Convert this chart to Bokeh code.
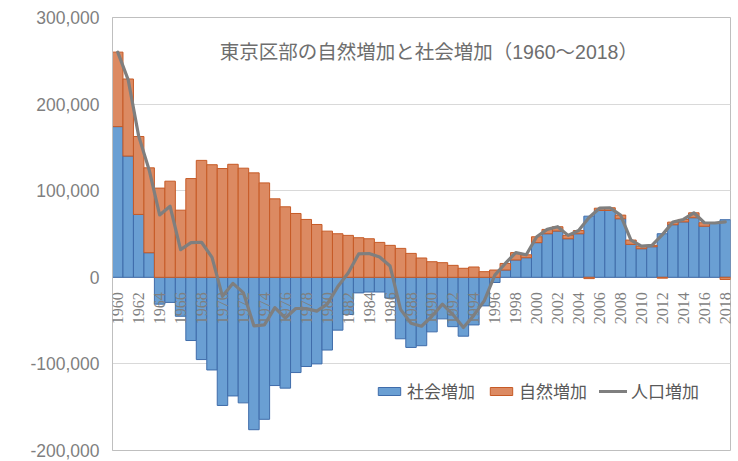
import numpy as np
from bokeh.plotting import figure
from bokeh.models import (Range1d, FixedTicker, NumeralTickFormatter, ColumnDataSource,
                          Legend, LegendItem, Label, LabelSet, Span)
from bokeh.core.properties import value
from bokeh.embed import file_html
from bokeh.resources import INLINE

# ---------------- data (persons) ----------------
years = list(range(1960, 2019))

social_k = [174, 140, 72.6, 28.4, -31, -29, -45, -73, -95, -107,
            -148, -137, -145, -176, -164, -125, -128, -110, -103, -100,
            -84, -61, -43, -18, -17, -17, -24, -71, -81, -79,
            -63, -48, -57, -68, -55, -33, -6, 8.4, 20, 22.6,
            40, 50.3, 53.4, 44.5, 50.3, 70.6, 77.2, 77.2, 67.6, 38,
            33, 35.3, 50.3, 60.7, 64, 68.8, 59, 62.2, 66.5]

natural_k = [86, 89, 90, 98, 103, 111, 77.5, 114, 135, 130,
             125.6, 130.5, 126, 120.6, 109, 90.6, 81.4, 73.7, 66.8, 61,
             53.3, 50.3, 48.4, 45.7, 44.5, 40.3, 36.9, 33.4, 27.6, 22.3,
             18, 16.9, 13.8, 10.4, 11.9, 6.5, 8.4, 7.6, 8.5, 3.4,
             6.8, 5, 5, 3.9, 3.7, -1.5, 2.6, 3.1, 4.2, 5,
             3, 1.6, -1, 3, 2.8, 5.7, 4, 0.5, -2.5]

population_k = [260, 228, 163, 124, 72, 82, 32, 40, 40.5, 23,
                -22, -7, -18, -56, -55, -35, -47, -36, -36, -39,
                -31, -11, 5, 27, 27.5, 23.5, 13, -37, -53, -56.5,
                -45, -31, -43, -58, -44, -27, 2.5, 16, 28.5, 26,
                46.8, 55.3, 58.4, 48.4, 54, 69, 79.8, 80.3, 71.8, 43,
                36, 36.9, 49.3, 63.7, 66.8, 74.5, 63, 62.7, 64]

y_ticks = [-200000, -100000, 0, 100000, 200000, 300000]
x_label_years = years[::2]
title_text = "東京区部の自然増加と社会増加（1960～2018）"
legend_labels = ["社会増加", "自然増加", "人口増加"]

# ---------------- derived stacking (Excel-style: +/- stacked separately) ----------------
social = np.array(social_k) * 1000.0
natural = np.array(natural_k) * 1000.0
population = np.array(population_k) * 1000.0

soc_bottom = np.zeros_like(social)
soc_top = social
nat_bottom = np.where(natural >= 0, np.maximum(social, 0), np.minimum(social, 0))
nat_top = nat_bottom + natural

src = ColumnDataSource(dict(x=years, sb=soc_bottom, st=soc_top, nb=nat_bottom, nt=nat_top,
                            pop=population))
lbl_src = ColumnDataSource(dict(x=x_label_years, y=[0] * len(x_label_years),
                                t=[str(y) for y in x_label_years]))

CJK = "'Liberation Sans', 'Noto Sans CJK JP', sans-serif"
GRAY_TXT = "#7F7F7F"

p = figure(width=738, height=461,
           x_range=Range1d(1959.5, 2018.5), y_range=Range1d(-200000, 300000),
           output_backend="svg", toolbar_location=None,
           min_border_left=112, min_border_right=8, min_border_top=17, min_border_bottom=11)

p.xaxis.visible = False
p.xgrid.visible = False
p.ygrid.grid_line_color = "#D9D9D9"
p.ygrid.grid_line_width = 1
p.outline_line_color = "#BFBFBF"
p.outline_line_width = 1

ax = p.yaxis[0]
ax.ticker = FixedTicker(ticks=y_ticks)
ax.formatter = NumeralTickFormatter(format="0,0")
ax.axis_line_color = "#BFBFBF"
ax.major_tick_line_color = None
ax.minor_tick_line_color = None
ax.major_tick_out = 0
ax.major_label_standoff = 13
ax.major_label_text_font = "Liberation Sans"
ax.major_label_text_font_size = "17.5px"
ax.major_label_text_color = GRAY_TXT

p.add_layout(Span(location=0, dimension="width", line_color="#BFBFBF", line_width=1, level="underlay"))

r_soc = p.vbar(x="x", bottom="sb", top="st", width=1.0, source=src,
               fill_color="#6A9FD3", line_color="#3F6CAA", line_width=1)
r_nat = p.vbar(x="x", bottom="nb", top="nt", width=1.0, source=src,
               fill_color="#DC8A62", line_color="#C65A26", line_width=1)

p.add_layout(LabelSet(x="x", y="y", text="t", source=lbl_src, y_offset=-15,
                      angle=np.pi / 2, text_align="right", text_baseline="middle",
                      text_font="Liberation Sans", text_font_size="16px", text_color=GRAY_TXT))

r_pop = p.line(x="x", y="pop", source=src, line_color="#7F7F7F", line_width=3.2,
               line_join="round", line_cap="round")

p.add_layout(Label(x=1989.7, y=260000, text=title_text, text_align="center",
                   text_baseline="middle", text_font=CJK, text_font_size="19.5px",
                   text_color="#6E6E6E"))

legend = Legend(items=[LegendItem(label=legend_labels[0], renderers=[r_soc]),
                       LegendItem(label=legend_labels[1], renderers=[r_nat]),
                       LegendItem(label=legend_labels[2], renderers=[r_pop])],
                orientation="horizontal", location=(263, 47),
                border_line_color=None, background_fill_alpha=0,
                label_text_font=CJK, label_text_font_size="17px", label_text_color="#595959",
                glyph_width=28, glyph_height=10, spacing=12, padding=0, margin=0,
                label_standoff=4)
p.add_layout(legend)

open("out.html", "w").write(file_html(p, INLINE))
